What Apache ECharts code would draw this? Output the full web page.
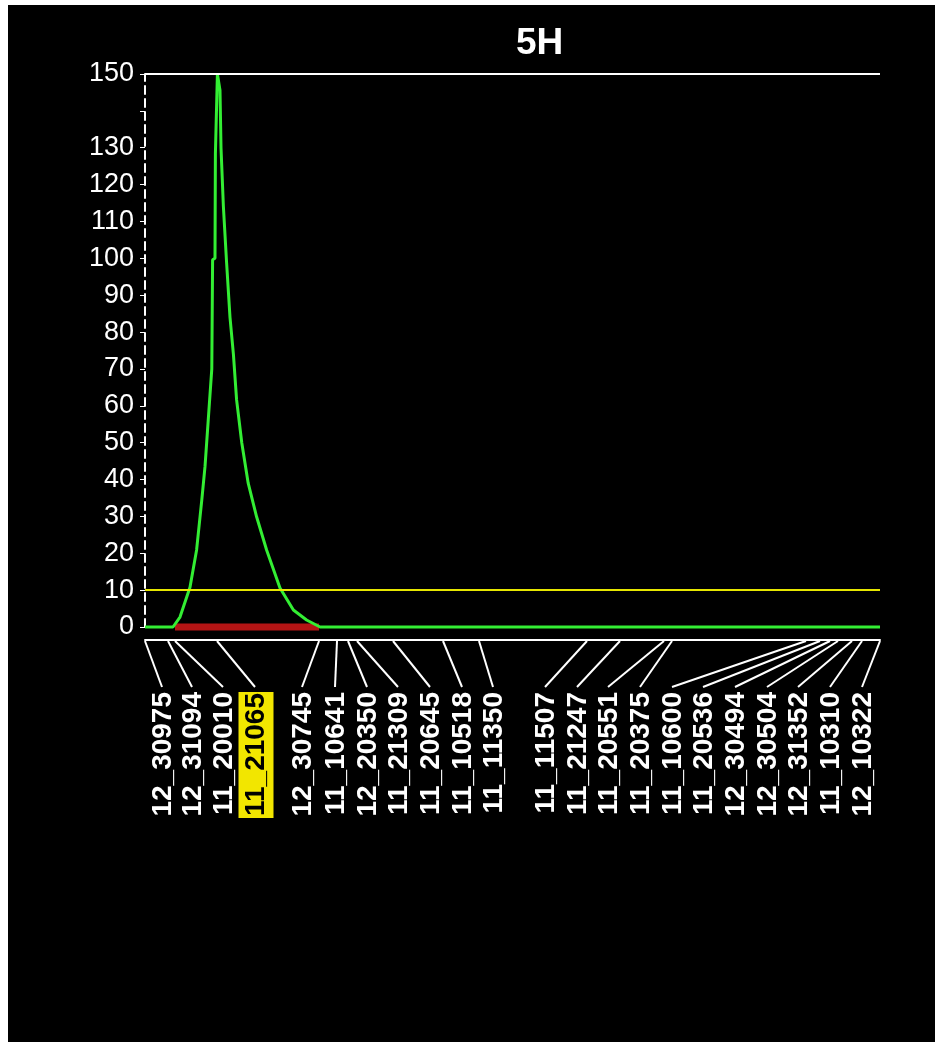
<!DOCTYPE html>
<html>
<head>
<meta charset="utf-8">
<script src="https://cdn.jsdelivr.net/npm/echarts@6/dist/echarts.min.js"></script>
<style>
  html, body { margin: 0; padding: 0; background: #ffffff; width: 939px; height: 1048px; overflow: hidden; }
  #chart { position: absolute; left: 8px; top: 5px; width: 927px; height: 1037px; background: #000000; }
</style>
</head>
<body>
<div id="chart"></div>
<script>
// ---- data ----
const chartTitle = '5H';
const markerNames = ['12_30975','12_31094','11_20010','11_21065','12_30745','11_10641','12_20350','11_21309','11_20645','11_10518','11_11350','11_11507','11_21247','11_20551','11_20375','11_10600','11_20536','12_30494','12_30504','12_31352','11_10310','12_10322'];
const markerPos = [0, 5.75, 7.5, 18, 43.5, 48, 50.75, 53, 62, 74.5, 83.5, 110.5, 118.75, 129.75, 131.75, 165.25, 168.75, 171.25, 173.25, 176.75, 179.25, 183.75];
const labelSlots = [4.25, 11.75, 19.5, 27.5, 39.25, 47.5, 55.5, 63.25, 71.25, 79.25, 87, 100, 108, 115.75, 123.75, 131.75, 139.5, 147.5, 155.5, 163.25, 171.25, 179.25];
const highlightMarker = '11_21065';
const lodPos = [0, 7, 8.75, 11.25, 12.9, 14.2, 15, 15.8, 16.7, 16.9, 17.5, 17.6, 18.1, 18.75, 19, 19.6, 20.4, 21.25, 22.1, 22.9, 24.2, 25.8, 27.9, 30.4, 33.75, 37.1, 40.4, 43.75, 183.75];
const lodVal = [0, 0, 2.7, 10.8, 20.9, 34.5, 43.5, 56, 70, 99.6, 100, 128.5, 150, 145.6, 130, 114, 98.8, 84, 74, 61.6, 49.9, 39, 29.9, 20.9, 10.6, 4.6, 1.9, 0, 0];
const supportInterval = [7.5, 43.5];
const threshold = 10;
const yMin = 0, yMax = 150, yStep = 10;
const yTickLabels = [0, 10, 20, 30, 40, 50, 60, 70, 80, 90, 100, 110, 120, 130, 150];
const xMax = 183.75;

// ---- chart ----
const chart = echarts.init(document.getElementById('chart'), null, { renderer: 'canvas' });
const AXIS_OFFSET = 13;

const markerData = markerNames.map((n, i) => [markerPos[i], 0, labelSlots[i]]);

const option = {
  backgroundColor: '#000000',
  animation: false,
  title: {
    text: chartTitle,
    left: 503,
    top: 15,
    textStyle: { color: '#ffffff', fontSize: 37, fontWeight: 'bold', fontFamily: 'Liberation Sans, Arial, sans-serif' }
  },
  grid: { left: 137, right: 55, top: 69, bottom: 415, containLabel: false },
  xAxis: {
    type: 'value', min: 0, max: xMax,
    offset: AXIS_OFFSET,
    axisLine: { show: true, onZero: false, lineStyle: { color: '#ffffff', width: 2 } },
    axisTick: { show: false },
    axisLabel: { show: false },
    splitLine: { show: false }
  },
  yAxis: {
    type: 'value', min: yMin, max: yMax, interval: yStep,
    axisLine: { show: true, lineStyle: { color: '#ffffff', width: 2, type: [8, 5] } },
    axisTick: { show: true, length: 5, lineStyle: { color: '#ffffff', width: 1 } },
    axisLabel: {
      color: '#ffffff', fontSize: 27, margin: 11,
      fontFamily: 'Liberation Sans, Arial, sans-serif',
      formatter: v => yTickLabels.includes(v) ? String(v) : ''
    },
    splitLine: { show: false }
  },
  series: [
    {
      type: 'line',
      name: 'interval',
      data: supportInterval.map(x => [x, 0]),
      showSymbol: false,
      clip: false,
      lineStyle: { color: '#b41414', width: 7 },
      z: 2
    },
    {
      type: 'line',
      name: 'LOD',
      data: lodPos.map((x, i) => [x, lodVal[i]]),
      showSymbol: false,
      clip: false,
      lineStyle: { color: '#33ee33', width: 3 },
      z: 4,
      markLine: {
        silent: true,
        symbol: 'none',
        label: { show: false },
        data: [
          { yAxis: threshold, lineStyle: { color: '#e6e600', width: 2, type: 'solid' } },
          { yAxis: yMax, lineStyle: { color: '#ffffff', width: 2, type: 'solid' } }
        ]
      }
    },
    {
      type: 'custom',
      name: 'markers',
      data: markerData,
      encode: { x: [0, 2], y: 1 },
      clip: false,
      z: 5,
      renderItem: function (params, api) {
        const name = markerNames[params.dataIndex];
        const top = api.coord([api.value(0), 0]);
        const bot = api.coord([api.value(2), 0]);
        const axisY = top[1] + AXIS_OFFSET + 1;
        const hl = name === highlightMarker;
        return {
          type: 'group',
          children: [
            {
              type: 'line',
              shape: { x1: top[0], y1: axisY, x2: bot[0], y2: axisY + 46 },
              style: { stroke: '#ffffff', lineWidth: 2 }
            },
            {
              type: 'text',
              x: bot[0] + 1,
              y: axisY + 51,
              rotation: Math.PI / 2,
              style: {
                text: name,
                align: 'right',
                verticalAlign: 'middle',
                fill: hl ? '#000000' : '#ffffff',
                backgroundColor: hl ? '#f2e600' : 'transparent',
                padding: hl ? [4, 1, 3, 2] : 0,
                font: 'bold 28px "Liberation Sans", Arial, sans-serif'
              }
            }
          ]
        };
      }
    }
  ]
};
chart.setOption(option);
</script>
</body>
</html>
